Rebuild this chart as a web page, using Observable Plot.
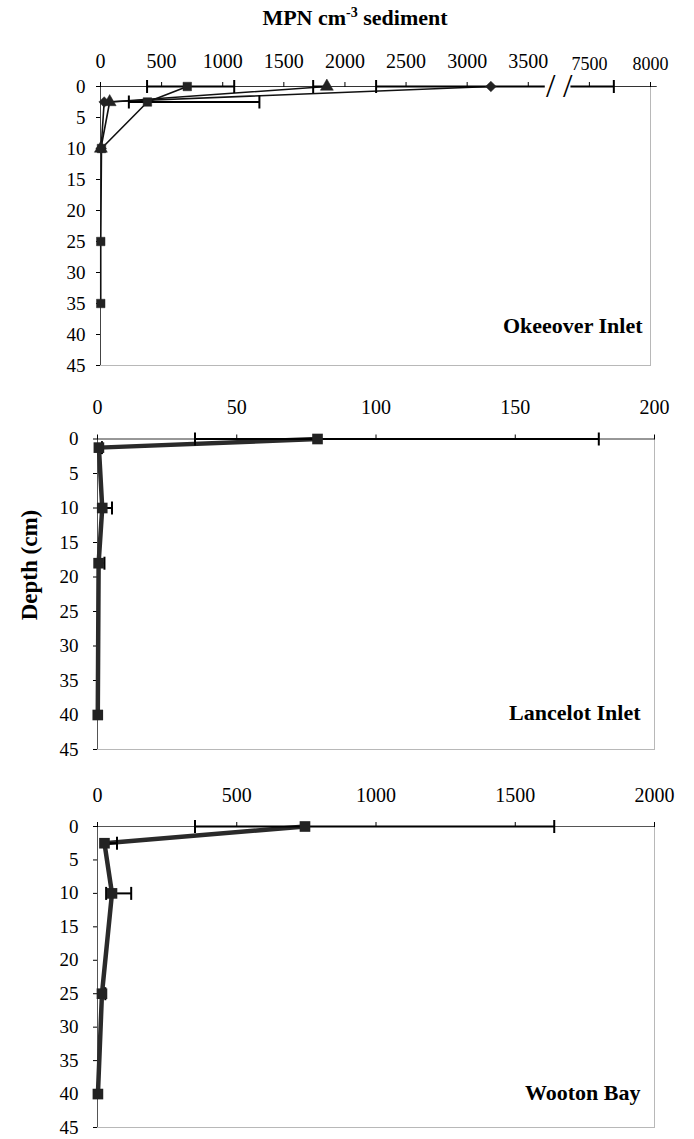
<!DOCTYPE html>
<html>
<head>
<meta charset="utf-8">
<script src="https://cdn.jsdelivr.net/npm/d3@7"></script>
<script src="https://cdn.jsdelivr.net/npm/@observablehq/plot@0.6"></script>
<style>
  body { margin: 0; background: #fff; }
  #wrap { position: relative; width: 694px; height: 1139px;
          font-family: "Liberation Serif", "Times New Roman", serif; color: #000; }
  #wrap svg { position: absolute; left: 0; font-family: "Liberation Serif", "Times New Roman", serif; }
  #title { position: absolute; top: 4px; left: 0; width: 710px; text-align: center;
           font-weight: bold; font-size: 22px; line-height: 28px; white-space: nowrap; }
  #title sup { font-size: 14px; vertical-align: 8px; line-height: 0; }
  #ylab { position: absolute; left: 30px; top: 565px; transform: translate(-50%, -50%) rotate(-90deg);
          font-weight: bold; font-size: 23px; white-space: nowrap; }
</style>
</head>
<body>
<div id="wrap">
  <div id="title">MPN cm<sup>-3</sup> sediment</div>
  <div id="ylab">Depth (cm)</div>
</div>
<script>
// ---------------- DATA ----------------
const depthTicks = [0, 5, 10, 15, 20, 25, 30, 35, 40, 45];

// Okeeover Inlet (three cores)
const okTickValues = [0, 500, 1000, 1500, 2000, 2500, 3000, 3500];
const okBreakTickValues = [7500, 8000];
const okBreakFrom = 3750, okBreakTo = 7250;

const okA_depth = [0, 2.5, 10, 25, 35];
const okA_mpn   = [710, 384, 8, 2, 2];
const okA_lo    = [381, 232, 8, 2, 2];
const okA_hi    = [1094, 1300, 8, 2, 2];

const okB_depth = [0, 2.5, 10];
const okB_mpn   = [1852, 75, 3];
const okB_lo    = [1740, 75, 3];
const okB_hi    = [1852, 75, 3];

const okC_depth = [0, 2.5, 10];
const okC_mpn   = [3194, 30, 5];
const okC_lo    = [2255, 30, 5];
const okC_hi    = [7700, 30, 5];

// Lancelot Inlet
const lanTickValues = [0, 50, 100, 150, 200];
const lanDepth = [0, 1.25, 10, 18, 40];
const lanMpn   = [79, 0.5, 1.7, 0.4, 0.1];
const lanLo    = [35, 0.5, 1.7, 0.4, 0.1];
const lanHi    = [180, 1.6, 5.2, 2.5, 0.1];

// Wooton Bay
const wooTickValues = [0, 500, 1000, 1500, 2000];
const wooDepth = [0, 2.5, 10, 25, 40];
const wooMpn   = [745, 25, 52, 16, 1.5];
const wooLo    = [350, 25, 31, 16, 1.5];
const wooHi    = [1640, 70, 121, 28, 1.5];

const panelLabels = ["Okeeover Inlet", "Lancelot Inlet", "Wooton Bay"];

// ---------------- HELPERS ----------------
const SERIF = "'Liberation Serif', 'Times New Roman', serif";
function rows(depth, mpn, lo, hi, series) {
  return depth.map((d, i) => ({series, depth: d, mpn: mpn[i], lo: lo[i], hi: hi[i]}));
}
// broken axis: values beyond the break are shifted left
function okX(v) { return v >= okBreakTo ? v - (okBreakTo - okBreakFrom) : v; }

// vertical bar used as error-bar cap (half length = r)
const capSymbol = {
  draw(ctx, size) {
    const h = Math.sqrt(size / Math.PI);
    ctx.moveTo(0, -h);
    ctx.lineTo(0, h);
  }
};

const baseStyle = {fontFamily: SERIF, fontSize: "20px", color: "#000", background: "transparent", overflow: "visible"};

function errorMarks(data, xf, capR) {
  const caps = [];
  data.forEach(d => {
    if (d.lo !== d.mpn) caps.push({v: d.lo, depth: d.depth});
    if (d.hi !== d.mpn) caps.push({v: d.hi, depth: d.depth});
  });
  return [
    Plot.link(data.filter(d => d.lo !== d.hi), {x1: d => xf(d.lo), x2: d => xf(d.hi), y1: "depth", y2: "depth", stroke: "#000", strokeWidth: 2}),
    Plot.dot(caps, {x: d => xf(d.v), y: "depth", symbol: capSymbol, r: capR, fill: "none", stroke: "#000", strokeWidth: 2})
  ];
}

function yAxis(pad) {
  return Plot.axisY({ticks: depthTicks, tickSize: 4, tickPadding: pad, fontSize: 19, fontFamily: SERIF, label: null, tickFormat: d => String(d)});
}

const wrap = document.getElementById("wrap");

// ---------------- PANEL 1: Okeeover ----------------
{
  const data = [
    ...rows(okA_depth, okA_mpn, okA_lo, okA_hi, "A"),
    ...rows(okB_depth, okB_mpn, okB_lo, okB_hi, "B"),
    ...rows(okC_depth, okC_mpn, okC_lo, okC_hi, "C")
  ];
  const sym = {A: "square", B: "triangle", C: "diamond2"};
  const breakLabels = new Map(okBreakTickValues.map(v => [okX(v), v]));
  const p = Plot.plot({
    width: 694, height: 345,
    marginTop: 56, marginBottom: 10, marginLeft: 100, marginRight: 44,
    style: baseStyle,
    x: {domain: [0, okX(8000)], axis: null},
    y: {domain: [0, 45], reverse: true, axis: null},
    marks: [
      Plot.frame({stroke: "#b8b8b8"}),
      Plot.ruleX([0], {stroke: "#444"}),
      Plot.ruleY([0], {x1: 0, x2: okX(8000) + 55, stroke: "#333"}),
      Plot.axisX({anchor: "top", ticks: okTickValues, tickSize: 5, tickPadding: 14, tickFormat: d => String(d), fontSize: 20, fontFamily: SERIF, label: null}),
      Plot.axisX({anchor: "top", ticks: okBreakTickValues.map(okX), tickSize: 5, tickPadding: 12, tickFormat: d => String(breakLabels.get(d)), fontSize: 18, fontFamily: SERIF, label: null}),
      yAxis(11),
      Plot.line(data, {x: d => okX(d.mpn), y: "depth", z: "series", stroke: "#111", strokeWidth: 1.6}),
      ...errorMarks(data, okX, 6.5),
      Plot.dot(data, {x: d => okX(d.mpn), y: "depth", symbol: d => sym[d.series], r: 4.8, fill: "#222", stroke: "#222", strokeWidth: 0.5}),
      // axis break: gap in the line + two slashes
      Plot.link([okBreakFrom], {x1: d => d - 115, x2: d => d + 95, y1: 0, y2: 0, stroke: "#fff", strokeWidth: 5}),
      Plot.text([okBreakFrom], {x: d => d, y: 0, text: () => "/", dx: -8, fontSize: 34, fontFamily: SERIF, fill: "#000"}),
      Plot.text([okBreakFrom], {x: d => d, y: 0, text: () => "/", dx: 9, fontSize: 34, fontFamily: SERIF, fill: "#000"}),
      Plot.text([panelLabels[0]], {text: d => d, frameAnchor: "bottom-right", textAnchor: "end", lineAnchor: "middle", dx: -8, dy: -40, fontWeight: "bold", fontSize: 22, fontFamily: SERIF})
    ]
  });
  p.style.top = "30px";
  wrap.appendChild(p);
}

// ---------------- PANEL 2: Lancelot ----------------
{
  const data = rows(lanDepth, lanMpn, lanLo, lanHi, "L");
  const p = Plot.plot({
    width: 694, height: 379,
    marginTop: 58.5, marginBottom: 10, marginLeft: 97, marginRight: 40,
    style: baseStyle,
    x: {domain: [0, 200], axis: null},
    y: {domain: [0, 45], reverse: true, axis: null},
    marks: [
      Plot.frame({stroke: "#b8b8b8"}),
      Plot.ruleX([0], {stroke: "#555"}),
      Plot.ruleY([0], {stroke: "#555"}),
      Plot.axisX({anchor: "top", ticks: lanTickValues, tickSize: 5, tickPadding: 20, fontSize: 20, fontFamily: SERIF, label: null, tickFormat: d => String(d)}),
      yAxis(15),
      Plot.line(data, {x: "mpn", y: "depth", stroke: "#2a2a2a", strokeWidth: 4.5}),
      ...errorMarks(data, d => d, 6.5),
      Plot.dot(data, {x: "mpn", y: "depth", symbol: "square", r: 6, fill: "#222"}),
      Plot.text([panelLabels[1]], {text: d => d, frameAnchor: "bottom-right", textAnchor: "end", lineAnchor: "middle", dx: -14, dy: -37, fontWeight: "bold", fontSize: 22, fontFamily: SERIF})
    ]
  });
  p.style.top = "380px";
  wrap.appendChild(p);
}

// ---------------- PANEL 3: Wooton ----------------
{
  const data = rows(wooDepth, wooMpn, wooLo, wooHi, "W");
  const p = Plot.plot({
    width: 694, height: 368,
    marginTop: 60, marginBottom: 7, marginLeft: 97, marginRight: 40,
    style: baseStyle,
    x: {domain: [0, 2000], axis: null},
    y: {domain: [0, 45], reverse: true, axis: null},
    marks: [
      Plot.frame({stroke: "#b8b8b8"}),
      Plot.ruleX([0], {stroke: "#555"}),
      Plot.ruleY([0], {stroke: "#555"}),
      Plot.axisX({anchor: "top", ticks: wooTickValues, tickSize: 5, tickPadding: 20, fontSize: 20, fontFamily: SERIF, label: null, tickFormat: d => String(d)}),
      yAxis(15),
      Plot.line(data, {x: "mpn", y: "depth", stroke: "#2a2a2a", strokeWidth: 4.5}),
      ...errorMarks(data, d => d, 6.5),
      Plot.dot(data, {x: "mpn", y: "depth", symbol: "square", r: 6, fill: "#222"}),
      Plot.text([panelLabels[2]], {text: d => d, frameAnchor: "bottom-right", textAnchor: "end", lineAnchor: "middle", dx: -14, dy: -35, fontWeight: "bold", fontSize: 22, fontFamily: SERIF})
    ]
  });
  p.style.top = "766px";
  wrap.appendChild(p);
}
</script>
</body>
</html>
